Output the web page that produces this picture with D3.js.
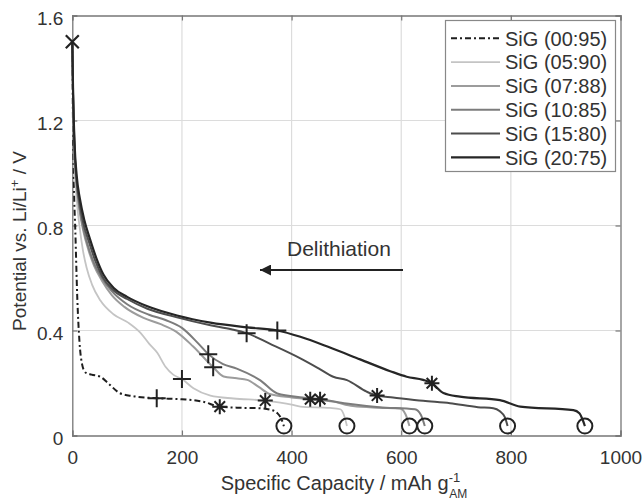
<!DOCTYPE html>
<html>
<head>
<meta charset="utf-8">
<script src="https://cdn.jsdelivr.net/npm/d3@7"></script>
<style>
  html, body { margin: 0; padding: 0; background: #fff; }
  svg { display: block; font-family: "Liberation Sans", Arial, Helvetica, sans-serif; }
</style>
</head>
<body>
<svg id="chart" width="644" height="502"></svg>
<script>
// ---- data ----
const seriesNames = ["SiG (00:95)", "SiG (05:90)", "SiG (07:88)", "SiG (10:85)", "SiG (15:80)", "SiG (20:75)"];

const cap0095 = [0, 1, 3, 5.5, 9, 13, 18, 24, 35, 51, 65, 87, 110, 154, 200, 238, 269, 300, 342, 362, 374, 382, 386];
const pot0095 = [1.5, 1.25, 0.95, 0.78, 0.53, 0.36, 0.27, 0.24, 0.232, 0.224, 0.2, 0.161, 0.15, 0.142, 0.138, 0.129, 0.11, 0.106, 0.104, 0.098, 0.085, 0.06, 0.035];

const cap0590 = [0, 1.5, 4, 8, 13, 19, 26, 36, 51, 75, 102, 124, 140, 155, 170, 184, 200, 221, 252, 294, 352, 400, 416, 470, 489, 496, 501];
const pot0590 = [1.5, 1.25, 1.04, 0.9, 0.8, 0.71, 0.64, 0.575, 0.515, 0.462, 0.43, 0.392, 0.35, 0.315, 0.262, 0.232, 0.215, 0.18, 0.152, 0.141, 0.133, 0.118, 0.11, 0.105, 0.1, 0.075, 0.036];

const cap0788 = [0, 1.5, 4, 8, 13, 20, 29, 40, 54, 72, 95, 130, 160, 190, 220, 257, 276, 300, 319, 340, 360, 400, 434, 476, 512, 560, 598, 608, 615];
const pot0788 = [1.5, 1.28, 1.08, 0.95, 0.86, 0.78, 0.71, 0.645, 0.59, 0.535, 0.49, 0.448, 0.425, 0.395, 0.34, 0.26, 0.225, 0.218, 0.212, 0.185, 0.158, 0.145, 0.138, 0.129, 0.112, 0.106, 0.103, 0.08, 0.036];

const cap1085 = [0, 1.5, 4, 8, 13, 20, 29, 40, 54, 72, 100, 140, 170, 200, 230, 248, 275, 300, 343, 374, 420, 452, 500, 560, 625, 636, 643];
const pot1085 = [1.5, 1.28, 1.09, 0.96, 0.87, 0.79, 0.72, 0.655, 0.6, 0.55, 0.5, 0.46, 0.44, 0.41, 0.35, 0.31, 0.272, 0.255, 0.21, 0.16, 0.145, 0.138, 0.122, 0.108, 0.1, 0.078, 0.036];

const cap1580 = [0, 1.5, 4, 8, 13, 20, 30, 42, 55, 73, 100, 137, 191, 252, 290, 318, 360, 416, 450, 476, 501, 537, 556, 585, 640, 689, 740, 768, 780, 789, 794];
const pot1580 = [1.5, 1.3, 1.1, 0.97, 0.89, 0.81, 0.74, 0.665, 0.605, 0.557, 0.52, 0.483, 0.45, 0.42, 0.405, 0.39, 0.35, 0.294, 0.255, 0.224, 0.211, 0.167, 0.152, 0.145, 0.132, 0.123, 0.108, 0.104, 0.092, 0.07, 0.036];

const cap2075 = [0, 1.5, 4, 8, 14, 22, 32, 44, 57, 75, 100, 137, 191, 252, 319, 374, 416, 470, 525, 580, 610, 640, 656, 677, 707, 780, 817, 914, 925, 931, 935];
const pot2075 = [1.5, 1.3, 1.12, 0.99, 0.9, 0.82, 0.75, 0.675, 0.612, 0.563, 0.528, 0.492, 0.457, 0.43, 0.412, 0.4, 0.376, 0.335, 0.29, 0.245, 0.224, 0.212, 0.199, 0.162, 0.148, 0.135, 0.11, 0.097, 0.085, 0.06, 0.036];

// markers (one per series, same order as seriesNames)
const plusCap = [154, 200, 257, 248, 318, 374];
const plusPot = [0.142, 0.215, 0.26, 0.31, 0.39, 0.40];
const starCap = [269, 352, 434, 452, 556, 656];
const starPot = [0.11, 0.133, 0.138, 0.138, 0.152, 0.199];
const circCap = [386, 501, 615, 643, 794, 935];
const circPot = [0.036, 0.036, 0.036, 0.036, 0.036, 0.036];
const startCap = [0];
const startPot = [1.5];

const xTicks = [0, 200, 400, 600, 800, 1000];
const yTicks = [0, 0.4, 0.8, 1.2, 1.6];
const yTickLabels = ["0", "0.4", "0.8", "1.2", "1.6"];

// ---- styles ----
const colors = ["#1e1e1e", "#c4c4c4", "#9c9c9c", "#7c7c7c", "#4d4d4d", "#262626"];
const widths = [2, 1.8, 2, 2, 2, 2.2];
const dashes = ["6,3,2,3", null, null, null, null, null];

const caps = [cap0095, cap0590, cap0788, cap1085, cap1580, cap2075];
const pots = [pot0095, pot0590, pot0788, pot1085, pot1580, pot2075];

const svg = d3.select("#chart");
const W = 644, H = 502;
const m = { left: 72.3, right: 644 - 620.5, top: 15.5, bottom: 502 - 435.5 };

const x = d3.scaleLinear().domain([0, 1000]).range([m.left, W - m.right]);
const y = d3.scaleLinear().domain([0, 1.6]).range([H - m.bottom, m.top]);

// grid
const g = svg.append("g");
g.selectAll(".vg").data(xTicks.slice(1, -1)).join("line")
  .attr("x1", d => x(d)).attr("x2", d => x(d))
  .attr("y1", y(0)).attr("y2", y(1.6))
  .attr("stroke", "#dcdcdc").attr("stroke-width", 1.2);
g.selectAll(".hg").data(yTicks.slice(1, -1)).join("line")
  .attr("x1", x(0)).attr("x2", x(1000))
  .attr("y1", d => y(d)).attr("y2", d => y(d))
  .attr("stroke", "#dcdcdc").attr("stroke-width", 1.2);

// axes using d3 axis generators (ticks inward)
const tickColor = "#777";
const fontSize = 19;
const axB = svg.append("g").attr("transform", `translate(0,${y(0)})`)
  .call(d3.axisBottom(x).tickValues(xTicks).tickSize(-5).tickPadding(15).tickFormat(d3.format("d")));
const axL = svg.append("g").attr("transform", `translate(${x(0)},0)`)
  .call(d3.axisLeft(y).tickValues(yTicks).tickSize(-5).tickPadding(9).tickFormat((d, i) => yTickLabels[i]));
const axT = svg.append("g").attr("transform", `translate(0,${y(1.6)})`)
  .call(d3.axisTop(x).tickValues(xTicks).tickSize(-5).tickFormat(""));
const axR = svg.append("g").attr("transform", `translate(${x(1000)},0)`)
  .call(d3.axisRight(y).tickValues(yTicks).tickSize(-5).tickFormat(""));
[axB, axL, axT, axR].forEach(a => {
  a.select(".domain").attr("stroke", tickColor).attr("stroke-width", 1.3);
  a.selectAll(".tick line").attr("stroke", tickColor).attr("stroke-width", 1.2);
  a.selectAll(".tick text").attr("fill", "#333").attr("font-size", fontSize)
    .attr("font-family", "Liberation Sans, Arial, sans-serif");
});
axL.selectAll(".tick text").attr("dy", "0.45em");

// lines
const line = d3.line().x(d => x(d[0])).y(d => y(d[1])).curve(d3.curveMonotoneX);
const plot = svg.append("g");
caps.forEach((c, i) => {
  const pts = c.map((v, j) => [v, pots[i][j]]);
  plot.append("path").datum(pts)
    .attr("d", line)
    .attr("fill", "none")
    .attr("stroke", colors[i])
    .attr("stroke-width", widths[i])
    .attr("stroke-linejoin", "round")
    .attr("stroke-dasharray", dashes[i]);
});

// markers
const mk = "#222";
const plusData = plusCap.map((c, i) => [c, plusPot[i]]);
plot.selectAll(".plus").data(plusData).join("path")
  .attr("d", d => { const cx = x(d[0]), cy = y(d[1]), r = 9; return `M${cx - r},${cy}H${cx + r}M${cx},${cy - r}V${cy + r}`; })
  .attr("stroke", mk).attr("stroke-width", 2).attr("fill", "none");

const starData = starCap.map((c, i) => [c, starPot[i]]);
plot.selectAll(".star").data(starData).join("path")
  .attr("d", d => {
    const cx = x(d[0]), cy = y(d[1]), r = 7.5; let s = "";
    for (let k = 0; k < 4; k++) {
      const a = k * Math.PI / 4;
      s += `M${cx - r * Math.cos(a)},${cy - r * Math.sin(a)}L${cx + r * Math.cos(a)},${cy + r * Math.sin(a)}`;
    }
    return s;
  })
  .attr("stroke", mk).attr("stroke-width", 2).attr("fill", "none");

const circData = circCap.map((c, i) => [c, circPot[i]]);
plot.selectAll(".circ").data(circData).join("circle")
  .attr("cx", d => x(d[0])).attr("cy", d => y(d[1])).attr("r", 7.5)
  .attr("stroke", mk).attr("stroke-width", 2).attr("fill", "none");

const startData = startCap.map((c, i) => [c, startPot[i]]);
plot.selectAll(".xm").data(startData).join("path")
  .attr("d", d => { const cx = x(d[0]), cy = y(d[1]), r = 6.5; return `M${cx - r},${cy - r}L${cx + r},${cy + r}M${cx - r},${cy + r}L${cx + r},${cy - r}`; })
  .attr("stroke", mk).attr("stroke-width", 2.2).attr("fill", "none");

// axis labels
svg.append("text")
  .attr("transform", `translate(26,${241}) rotate(-90)`)
  .attr("text-anchor", "middle").attr("fill", "#333").attr("font-size", 19)
  .html('Potential vs. Li/Li<tspan dy="-7" font-size="13">+</tspan><tspan dy="7"> / V</tspan>');

const xl = svg.append("text")
  .attr("x", 344).attr("y", 490)
  .attr("text-anchor", "middle").attr("fill", "#333").attr("font-size", 20);
xl.append("tspan").text("Specific Capacity / mAh g");
xl.append("tspan").attr("dy", -8).attr("font-size", 13).text("-1");
xl.append("tspan").attr("dx", -11).attr("dy", 16).attr("font-size", 12).text("AM");

// annotation
svg.append("text").attr("x", 287).attr("y", 256).attr("fill", "#333").attr("font-size", 21).text("Delithiation");
svg.append("defs").append("marker")
  .attr("id", "ah").attr("viewBox", "0 0 10 10").attr("refX", 10).attr("refY", 5)
  .attr("markerWidth", 7).attr("markerHeight", 5.5).attr("orient", "auto")
  .attr("markerUnits", "strokeWidth")
  .append("path").attr("d", "M0,0L10,5L0,10Z").attr("fill", "#222");
svg.append("line").attr("x1", 403).attr("y1", 270).attr("x2", 260).attr("y2", 270)
  .attr("stroke", "#222").attr("stroke-width", 2).attr("marker-end", "url(#ah)");

// legend
const lg = svg.append("g");
lg.append("rect").attr("x", 445.5).attr("y", 20.5).attr("width", 170).attr("height", 151)
  .attr("fill", "#fff").attr("stroke", "#888").attr("stroke-width", 1.2);
seriesNames.forEach((n, i) => {
  const yy = 38.3 + i * 23.8;
  lg.append("line").attr("x1", 451).attr("x2", 500).attr("y1", yy).attr("y2", yy)
    .attr("stroke", colors[i]).attr("stroke-width", widths[i]).attr("stroke-dasharray", dashes[i]);
  lg.append("text").attr("x", 505).attr("y", yy).attr("dy", "0.36em")
    .attr("fill", "#333").attr("font-size", 20).text(n);
});
</script>
</body>
</html>
